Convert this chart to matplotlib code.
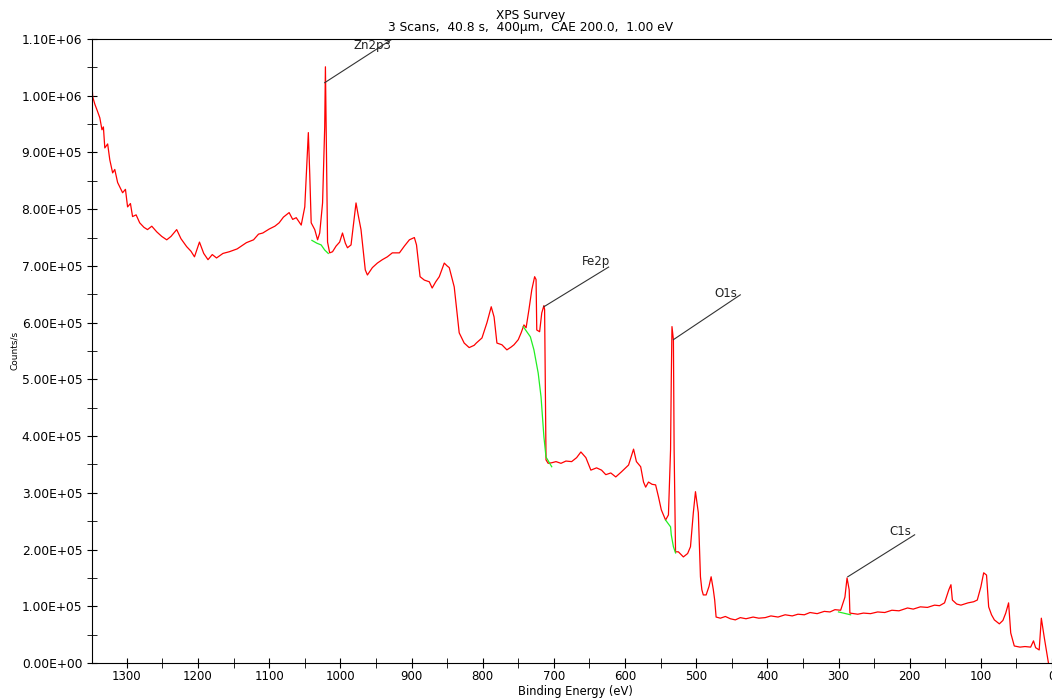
import numpy as np
import matplotlib
matplotlib.use('Agg')
import matplotlib.pyplot as plt
from matplotlib.ticker import MultipleLocator, FuncFormatter

# survey spectrum (binding energy eV, counts/s in thousands)
be = [1349, 1348, 1345, 1342, 1338, 1335, 1333, 1331, 1327, 1324, 1320, 1317, 1313, 1306, 1302,
      1299, 1295, 1292, 1287, 1282, 1276, 1271, 1265, 1258, 1251, 1244, 1238, 1230, 1224, 1216,
      1210, 1205, 1198, 1192, 1186, 1180, 1174, 1165, 1156, 1145, 1132, 1122, 1115, 1109, 1100,
      1092, 1086, 1080, 1072, 1067, 1062, 1055, 1050, 1048, 1045, 1043, 1041, 1036, 1032, 1029,
      1025, 1022, 1021, 1020, 1018, 1015, 1011, 1006, 1001, 997, 993, 990, 985, 980, 978,
      975, 971, 965, 962, 955, 948, 941, 934, 927, 917, 910, 903, 896, 893, 888,
      882, 875, 871, 866, 861, 854, 850, 847, 840, 833, 826, 819, 812, 809, 801,
      794, 788, 784, 780, 773, 766, 760, 756, 750, 746, 742, 739, 735, 731, 727,
      725, 724, 720, 717, 714, 713, 711, 708, 703, 697, 690, 683, 675, 668, 662,
      655, 648, 640, 633, 627, 620, 613, 605, 595, 588, 584, 578, 574, 571, 567,
      562, 557, 553, 549, 543, 539, 536, 535, 534, 532, 531, 529, 525, 518, 512,
      508, 504, 501, 497, 494, 492, 490, 486, 482, 479, 476, 474, 472, 466, 459,
      452, 445, 438, 430, 420, 412, 403, 395, 385, 375, 365, 357, 348, 340, 330,
      320, 312, 305, 297, 291, 288, 285, 284, 278, 273, 265, 255, 245, 235, 225,
      215, 203, 195, 185, 175, 165, 158, 151, 145, 142, 140, 134, 128, 118, 110,
      105, 100, 96, 92, 89, 85, 81, 74, 69, 65, 61, 58, 53, 45, 38,
      30, 26, 23, 18, 15, 11, 5]
counts_k = [1020, 998, 985, 975, 961, 940, 945, 908, 915, 887, 864, 870, 847, 829, 835,
            804, 810, 787, 790, 776, 768, 764, 770, 760, 752, 746, 752, 764, 748, 734,
            726, 716, 742, 722, 711, 720, 714, 722, 725, 730, 741, 746, 756, 758, 765,
            770, 776, 786, 794, 782, 785, 772, 804, 857, 935, 861, 776, 764, 746, 758,
            811, 945, 1051, 945, 742, 723, 725, 735, 742, 758, 740, 732, 737, 790, 811,
            790, 764, 693, 684, 697, 705, 711, 716, 723, 723, 735, 746, 750, 737, 681,
            675, 672, 661, 672, 681, 705, 700, 697, 663, 582, 564, 556, 560, 564, 573,
            600, 628, 610, 564, 561, 552, 557, 561, 570, 582, 596, 591, 623, 658, 681,
            676, 587, 584, 617, 630, 623, 358, 352, 353, 355, 352, 356, 355, 362, 372,
            362, 340, 344, 340, 332, 335, 328, 337, 349, 377, 355, 346, 319, 310, 319,
            315, 314, 293, 270, 252, 261, 376, 499, 593, 570, 376, 196, 196, 187, 193,
            205, 265, 302, 265, 152, 129, 120, 120, 135, 152, 130, 111, 81, 79, 82,
            78, 76, 80, 78, 81, 79, 80, 83, 81, 85, 83, 86, 85, 89, 87,
            91, 90, 94, 93, 116, 150, 129, 88, 87, 86, 88, 87, 90, 89, 93,
            92, 97, 95, 99, 98, 102, 101, 106, 129, 138, 111, 104, 102, 106, 108,
            111, 134, 159, 155, 99, 85, 76, 69, 75, 88, 106, 53, 30, 28, 29,
            28, 39, 27, 23, 79, 46, 0]

# Shirley backgrounds under the fitted peaks
bg_zn_be = [1040, 1033, 1027, 1022, 1017]
bg_zn_k = [745, 740, 737, 728, 722]
bg_fe_be = [743, 733, 728, 722, 718, 714, 711, 703]
bg_fe_k = [593, 575, 552, 511, 469, 399, 363, 346]
bg_o_be = [543, 536, 535, 532, 529]
bg_o_k = [252, 240, 226, 205, 194]
bg_c_be = [300, 283]
bg_c_k = [90, 85]

# peak labels: name, peak point, end of leader line, label centre
peaks = ['Zn2p3', 'Fe2p', 'O1s', 'C1s']
peak_be = [1022, 714, 532, 287]
peak_k = [1023, 628, 570, 152]
lead_be = [927, 623, 438, 193]
lead_k = [1100, 698, 649, 226]
label_be = [955, 641, 458, 213]
label_k = [1088, 708, 652, 231]

plt.rcParams['font.family'] = ['DejaVu Sans']

fig = plt.figure(figsize=(10.52, 7.0), dpi=100)
ax = fig.add_axes([92 / 1052, 1 - 663 / 700, 1 - 92 / 1052, (663 - 39) / 700])

k = 1000.0
ax.plot(be, np.array(counts_k) * k, color='#ff0000', lw=0.9)
for xb, yb in [(bg_zn_be, bg_zn_k), (bg_fe_be, bg_fe_k), (bg_o_be, bg_o_k), (bg_c_be, bg_c_k)]:
    ax.plot(xb, np.array(yb) * k, color='#22ee22', lw=0.9)

for i, name in enumerate(peaks):
    ax.plot([peak_be[i], lead_be[i]], [peak_k[i] * k, lead_k[i] * k], color='#333333', lw=0.8)
    ax.text(label_be[i], label_k[i] * k, name, fontsize=8.5, ha='center', va='center', color='#222222')

ax.set_xlim(1349, 0)
ax.set_ylim(0, 1.1e6)
ax.xaxis.set_major_locator(MultipleLocator(100))
ax.xaxis.set_minor_locator(MultipleLocator(50))
ax.yaxis.set_major_locator(MultipleLocator(1e5))
ax.yaxis.set_minor_locator(MultipleLocator(5e4))
ax.yaxis.set_major_formatter(FuncFormatter(lambda v, p: '{:.2E}'.format(v)))
ax.tick_params(which='both', direction='inout', length=7)
ax.tick_params(axis='y', labelsize=8.8)
ax.tick_params(axis='x', labelsize=8.5, pad=1.5)
ax.spines['right'].set_visible(False)

fig.text(575 / 1052, 1 - 691 / 700, 'Binding Energy (eV)', fontsize=8.3, ha='center', va='center')
fig.text(15 / 1052, 1 - 350 / 700, 'Counts/s', fontsize=6.5, rotation=90, ha='center', va='center')
fig.text(531 / 1052, 1 - 15 / 700, 'XPS Survey', fontsize=8.7, ha='center', va='center')
fig.text(531 / 1052, 1 - 27 / 700, '3 Scans,  40.8 s,  400µm,  CAE 200.0,  1.00 eV',
         fontsize=8.8, ha='center', va='center')

fig.savefig('out.png', dpi=100)
